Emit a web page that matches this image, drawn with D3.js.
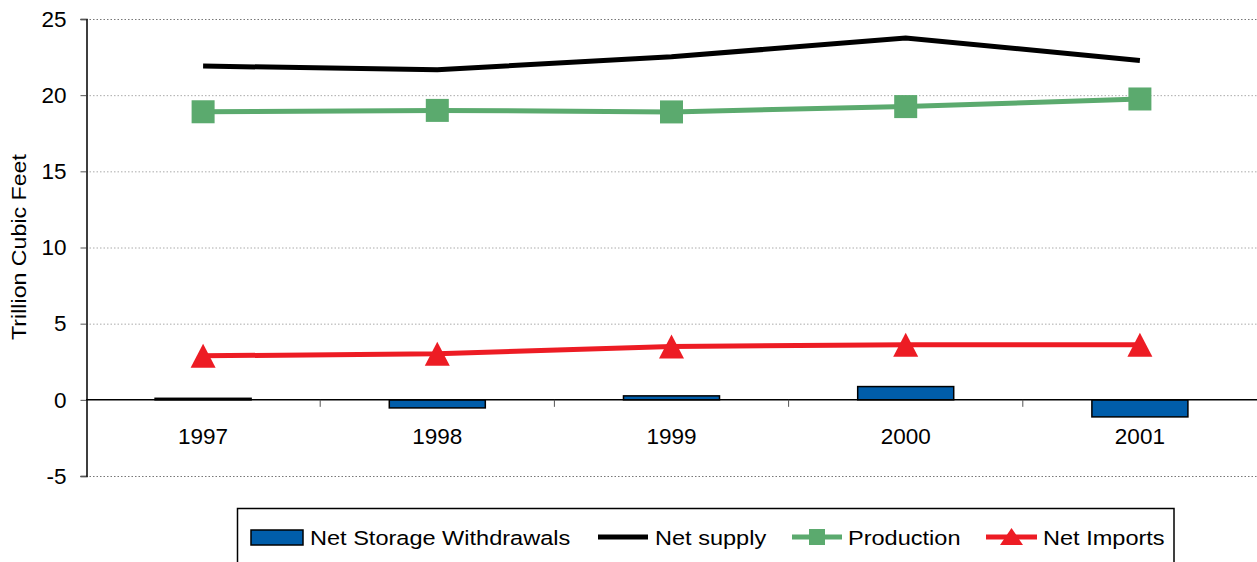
<!DOCTYPE html>
<html>
<head>
<meta charset="utf-8">
<script src="https://cdn.jsdelivr.net/npm/d3@7"></script>
<style>
  html, body { margin: 0; padding: 0; background: #fff; }
  svg { display: block; font-family: "Liberation Sans", Arial, sans-serif; }
</style>
</head>
<body>
<svg id="chart" width="1257" height="562"></svg>
<script>
const years = ["1997", "1998", "1999", "2000", "2001"];
const storageWithdrawals = [0.1, -0.53, 0.26, 0.87, -1.12];
const netSupply = [21.91, 21.67, 22.52, 23.75, 22.28];
const production = [18.91, 19.0, 18.9, 19.25, 19.75];
const netImports = [2.89, 3.02, 3.5, 3.61, 3.61];
const yTicks = [-5, 0, 5, 10, 15, 20, 25];
const legendLabels = ["Net Storage Withdrawals", "Net supply", "Production", "Net Imports"];

const colors = { bar: "#005DAA", supply: "#000000", prod: "#5BAA6E", imp: "#ED1C24" };

const svg = d3.select("#chart");
const plotL = 86, plotR = 1257, plotT = 19, plotB = 476;

const x = d3.scaleBand().domain(years).range([plotL, plotR]).paddingInner(0).paddingOuter(0);
const y = d3.scaleLinear().domain([-5, 25]).range([plotB, plotT]);

// gridlines
svg.append("g").selectAll("line")
  .data(yTicks.filter(t => t !== 0))
  .join("line")
  .attr("x1", plotL).attr("x2", plotR)
  .attr("y1", d => y(d) + 0.5).attr("y2", d => y(d) + 0.5)
  .attr("stroke", d => (d === 25 || d === -5) ? "#777" : "#aaa")
  .attr("stroke-width", 1)
  .attr("stroke-dasharray", "1.5,2");

// bars
const barW = x.bandwidth() * 0.41;
svg.append("g").selectAll("rect")
  .data(years)
  .join("rect")
  .attr("x", d => x(d) + x.bandwidth() / 2 - barW / 2)
  .attr("width", barW)
  .attr("y", (d, i) => Math.min(y(storageWithdrawals[i]), y(0)))
  .attr("height", (d, i) => Math.max(1, Math.abs(y(storageWithdrawals[i]) - y(0))))
  .attr("fill", colors.bar)
  .attr("stroke", "#000")
  .attr("stroke-width", 1.5);

// y axis
const yAxis = d3.axisLeft(y).tickValues(yTicks).tickSize(6).tickPadding(14)
  .tickFormat(d => String(d));
const gy = svg.append("g").attr("transform", `translate(${plotL + 0.5},0)`).call(yAxis);
gy.select(".domain").attr("stroke", "#000").attr("stroke-width", 1.5);
gy.selectAll(".tick line").attr("stroke", "#555");
gy.selectAll(".tick text").attr("font-size", 22.5).attr("fill", "#000")
  .attr("font-family", "Liberation Sans, Arial, sans-serif");

// x axis at zero
const gx = svg.append("g");
gx.append("line")
  .attr("x1", plotL).attr("x2", plotR)
  .attr("y1", y(0)).attr("y2", y(0))
  .attr("stroke", "#000").attr("stroke-width", 1.5);
gx.selectAll("line.sep")
  .data(years.slice(1))
  .join("line")
  .attr("class", "sep")
  .attr("x1", d => x(d)).attr("x2", d => x(d))
  .attr("y1", y(0)).attr("y2", y(0) + 7)
  .attr("stroke", "#555").attr("stroke-width", 1);
gx.selectAll("text")
  .data(years)
  .join("text")
  .attr("x", d => x(d) + x.bandwidth() / 2)
  .attr("y", y(0) + 44)
  .attr("text-anchor", "middle")
  .attr("font-size", 22.5)
  .attr("fill", "#000")
  .text(d => d);

// y-axis title
svg.append("text")
  .attr("transform", `translate(26,247) rotate(-90) scale(1.16,1)`)
  .attr("text-anchor", "middle")
  .attr("font-size", 20)
  .attr("fill", "#000")
  .text("Trillion Cubic Feet");

const cx = d => x(d) + x.bandwidth() / 2;
const line = vals => d3.line().x(d => cx(d)).y((d, i) => y(vals[i]))(years);

svg.append("path").attr("d", line(netSupply)).attr("fill", "none")
  .attr("stroke", colors.supply).attr("stroke-width", 5);
svg.append("path").attr("d", line(production)).attr("fill", "none")
  .attr("stroke", colors.prod).attr("stroke-width", 5);
svg.append("path").attr("d", line(netImports)).attr("fill", "none")
  .attr("stroke", colors.imp).attr("stroke-width", 5);

const sq = 23;
svg.append("g").selectAll("rect")
  .data(years)
  .join("rect")
  .attr("x", d => cx(d) - sq / 2)
  .attr("y", (d, i) => y(production[i]) - sq / 2)
  .attr("width", sq).attr("height", sq)
  .attr("fill", colors.prod);

const tri = (px, py) => `M${px},${py - 12}L${px + 12.5},${py + 12}L${px - 12.5},${py + 12}Z`;
svg.append("g").selectAll("path")
  .data(years)
  .join("path")
  .attr("d", (d, i) => tri(cx(d), y(netImports[i])))
  .attr("fill", colors.imp);

// legend
const lg = svg.append("g");
lg.append("rect")
  .attr("x", 237.5).attr("y", 508.5)
  .attr("width", 936.5).attr("height", 80)
  .attr("fill", "#fff").attr("stroke", "#000").attr("stroke-width", 1.5);

const ly = 537;
lg.append("rect").attr("x", 251).attr("y", ly - 7).attr("width", 52).attr("height", 15)
  .attr("fill", colors.bar).attr("stroke", "#000").attr("stroke-width", 1.5);
lg.append("line").attr("x1", 598).attr("x2", 648).attr("y1", ly).attr("y2", ly)
  .attr("stroke", colors.supply).attr("stroke-width", 5);
lg.append("line").attr("x1", 792).attr("x2", 842).attr("y1", ly).attr("y2", ly)
  .attr("stroke", colors.prod).attr("stroke-width", 5);
lg.append("rect").attr("x", 817 - 8).attr("y", ly - 8).attr("width", 16).attr("height", 16)
  .attr("fill", colors.prod);
lg.append("line").attr("x1", 986).attr("x2", 1037).attr("y1", ly).attr("y2", ly)
  .attr("stroke", colors.imp).attr("stroke-width", 5);
lg.append("path").attr("d", `M1011.5,${ly - 9}L1023,${ly + 8}L1000,${ly + 8}Z`).attr("fill", colors.imp);

const textX = [310, 655, 848, 1043];
lg.selectAll("text.lt")
  .data(legendLabels)
  .join("text")
  .attr("class", "lt")
  .attr("transform", (d, i) => `translate(${textX[i]},${ly + 7.5}) scale(1.16,1)`)
  .attr("font-size", 20.3)
  .attr("fill", "#000")
  .text(d => d);
</script>
</body>
</html>
